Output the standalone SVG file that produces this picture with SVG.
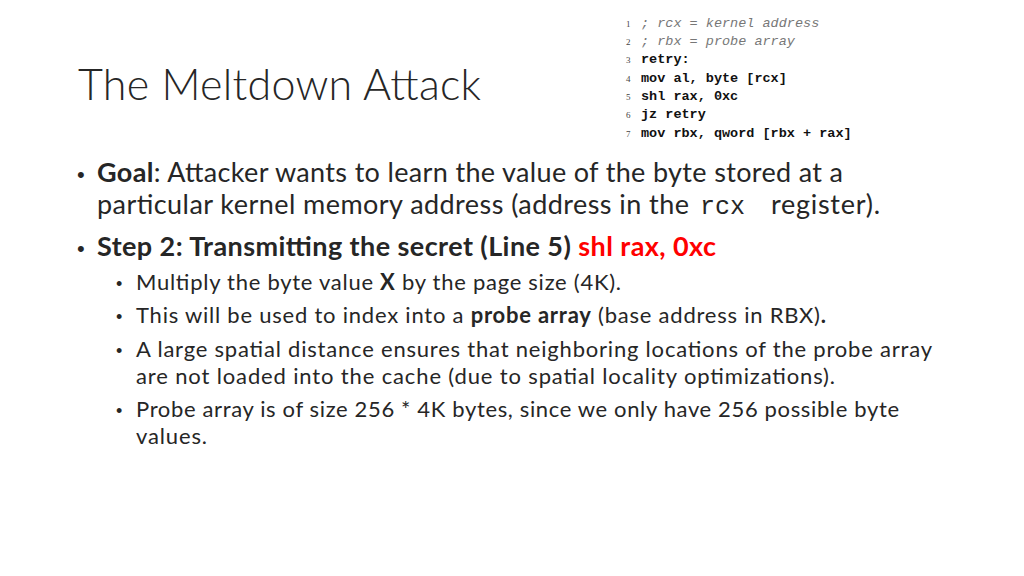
<svg xmlns="http://www.w3.org/2000/svg" width="1024" height="576" viewBox="0 0 1024 576">
<style>
.t{font-family:Lato,"Open Sans",sans-serif;fill:#262626}
.b{font-size:27px}.s{font-size:22px}
.bul{font-family:"Liberation Sans",sans-serif;fill:#262626}
.c{font-family:"Liberation Mono","DejaVu Sans Mono",monospace;font-size:13.5px;fill:#111;font-weight:bold}
.ci{font-family:"Liberation Mono","DejaVu Sans Mono",monospace;font-size:13.5px;fill:#777;font-style:italic}
.n{font-family:"Liberation Serif",serif;font-size:9px;fill:#444}
.red{fill:#ff0000}
</style>
<rect width="1024" height="576" fill="#fff"/>
<text class="t" x="78" y="100" font-size="43" font-weight="300" textLength="403">The Meltdown Attack</text>
<g id="code">
<text class="n" x="626" y="27">1</text><text class="ci" x="641" y="27">; rcx = kernel address</text>
<text class="n" x="626" y="45">2</text><text class="ci" x="641" y="45">; rbx = probe array</text>
<text class="n" x="626" y="63">3</text><text class="c" x="641" y="63">retry:</text>
<text class="n" x="626" y="82">4</text><text class="c" x="641" y="82">mov al, byte [rcx]</text>
<text class="n" x="626" y="100">5</text><text class="c" x="641" y="100">shl rax, 0xc</text>
<text class="n" x="626" y="118">6</text><text class="c" x="641" y="118">jz retry</text>
<text class="n" x="626" y="137">7</text><text class="c" x="641" y="137">mov rbx, qword [rbx + rax]</text>
</g>
<g id="body">
<text class="bul" x="77" y="182" font-size="22">•</text>
<text class="t b" x="97" y="182" textLength="746"><tspan font-weight="bold">Goal</tspan>: Attacker wants to learn the value of the byte stored at a</text>
<text class="t b" x="97" y="214" textLength="592">particular kernel memory address (address in the</text>
<text x="700" y="214" font-family="Liberation Mono,monospace" font-size="25" fill="#262626">rcx</text>
<text class="t b" x="771" y="214" textLength="109">register).</text>
<text class="bul" x="77" y="256" font-size="22">•</text>
<text class="t b" x="97" y="256" font-weight="bold" textLength="619">Step 2: Transmitting the secret (Line 5) <tspan class="red">shl rax, 0xc</tspan></text>
<g class="t s">
<text class="bul" x="116" y="290" font-size="18">•</text><text x="136" y="290" textLength="485">Multiply the byte value <tspan font-weight="bold">X</tspan> by the page size (4K).</text>
<text class="bul" x="116" y="323" font-size="18">•</text><text x="136" y="323" textLength="690">This will be used to index into a <tspan font-weight="bold">probe array</tspan> (base address in RBX)<tspan font-weight="bold">.</tspan></text>
<text class="bul" x="116" y="357" font-size="18">•</text><text x="136" y="357" textLength="796">A large spatial distance ensures that neighboring locations of the probe array</text>
<text x="136" y="384" textLength="699">are not loaded into the cache (due to spatial locality optimizations).</text>
<text class="bul" x="116" y="417" font-size="18">•</text><text x="136" y="417" textLength="763">Probe array is of size 256 * 4K bytes, since we only have 256 possible byte</text>
<text x="136" y="444" textLength="71">values.</text>
</g>
</g>
</svg>
